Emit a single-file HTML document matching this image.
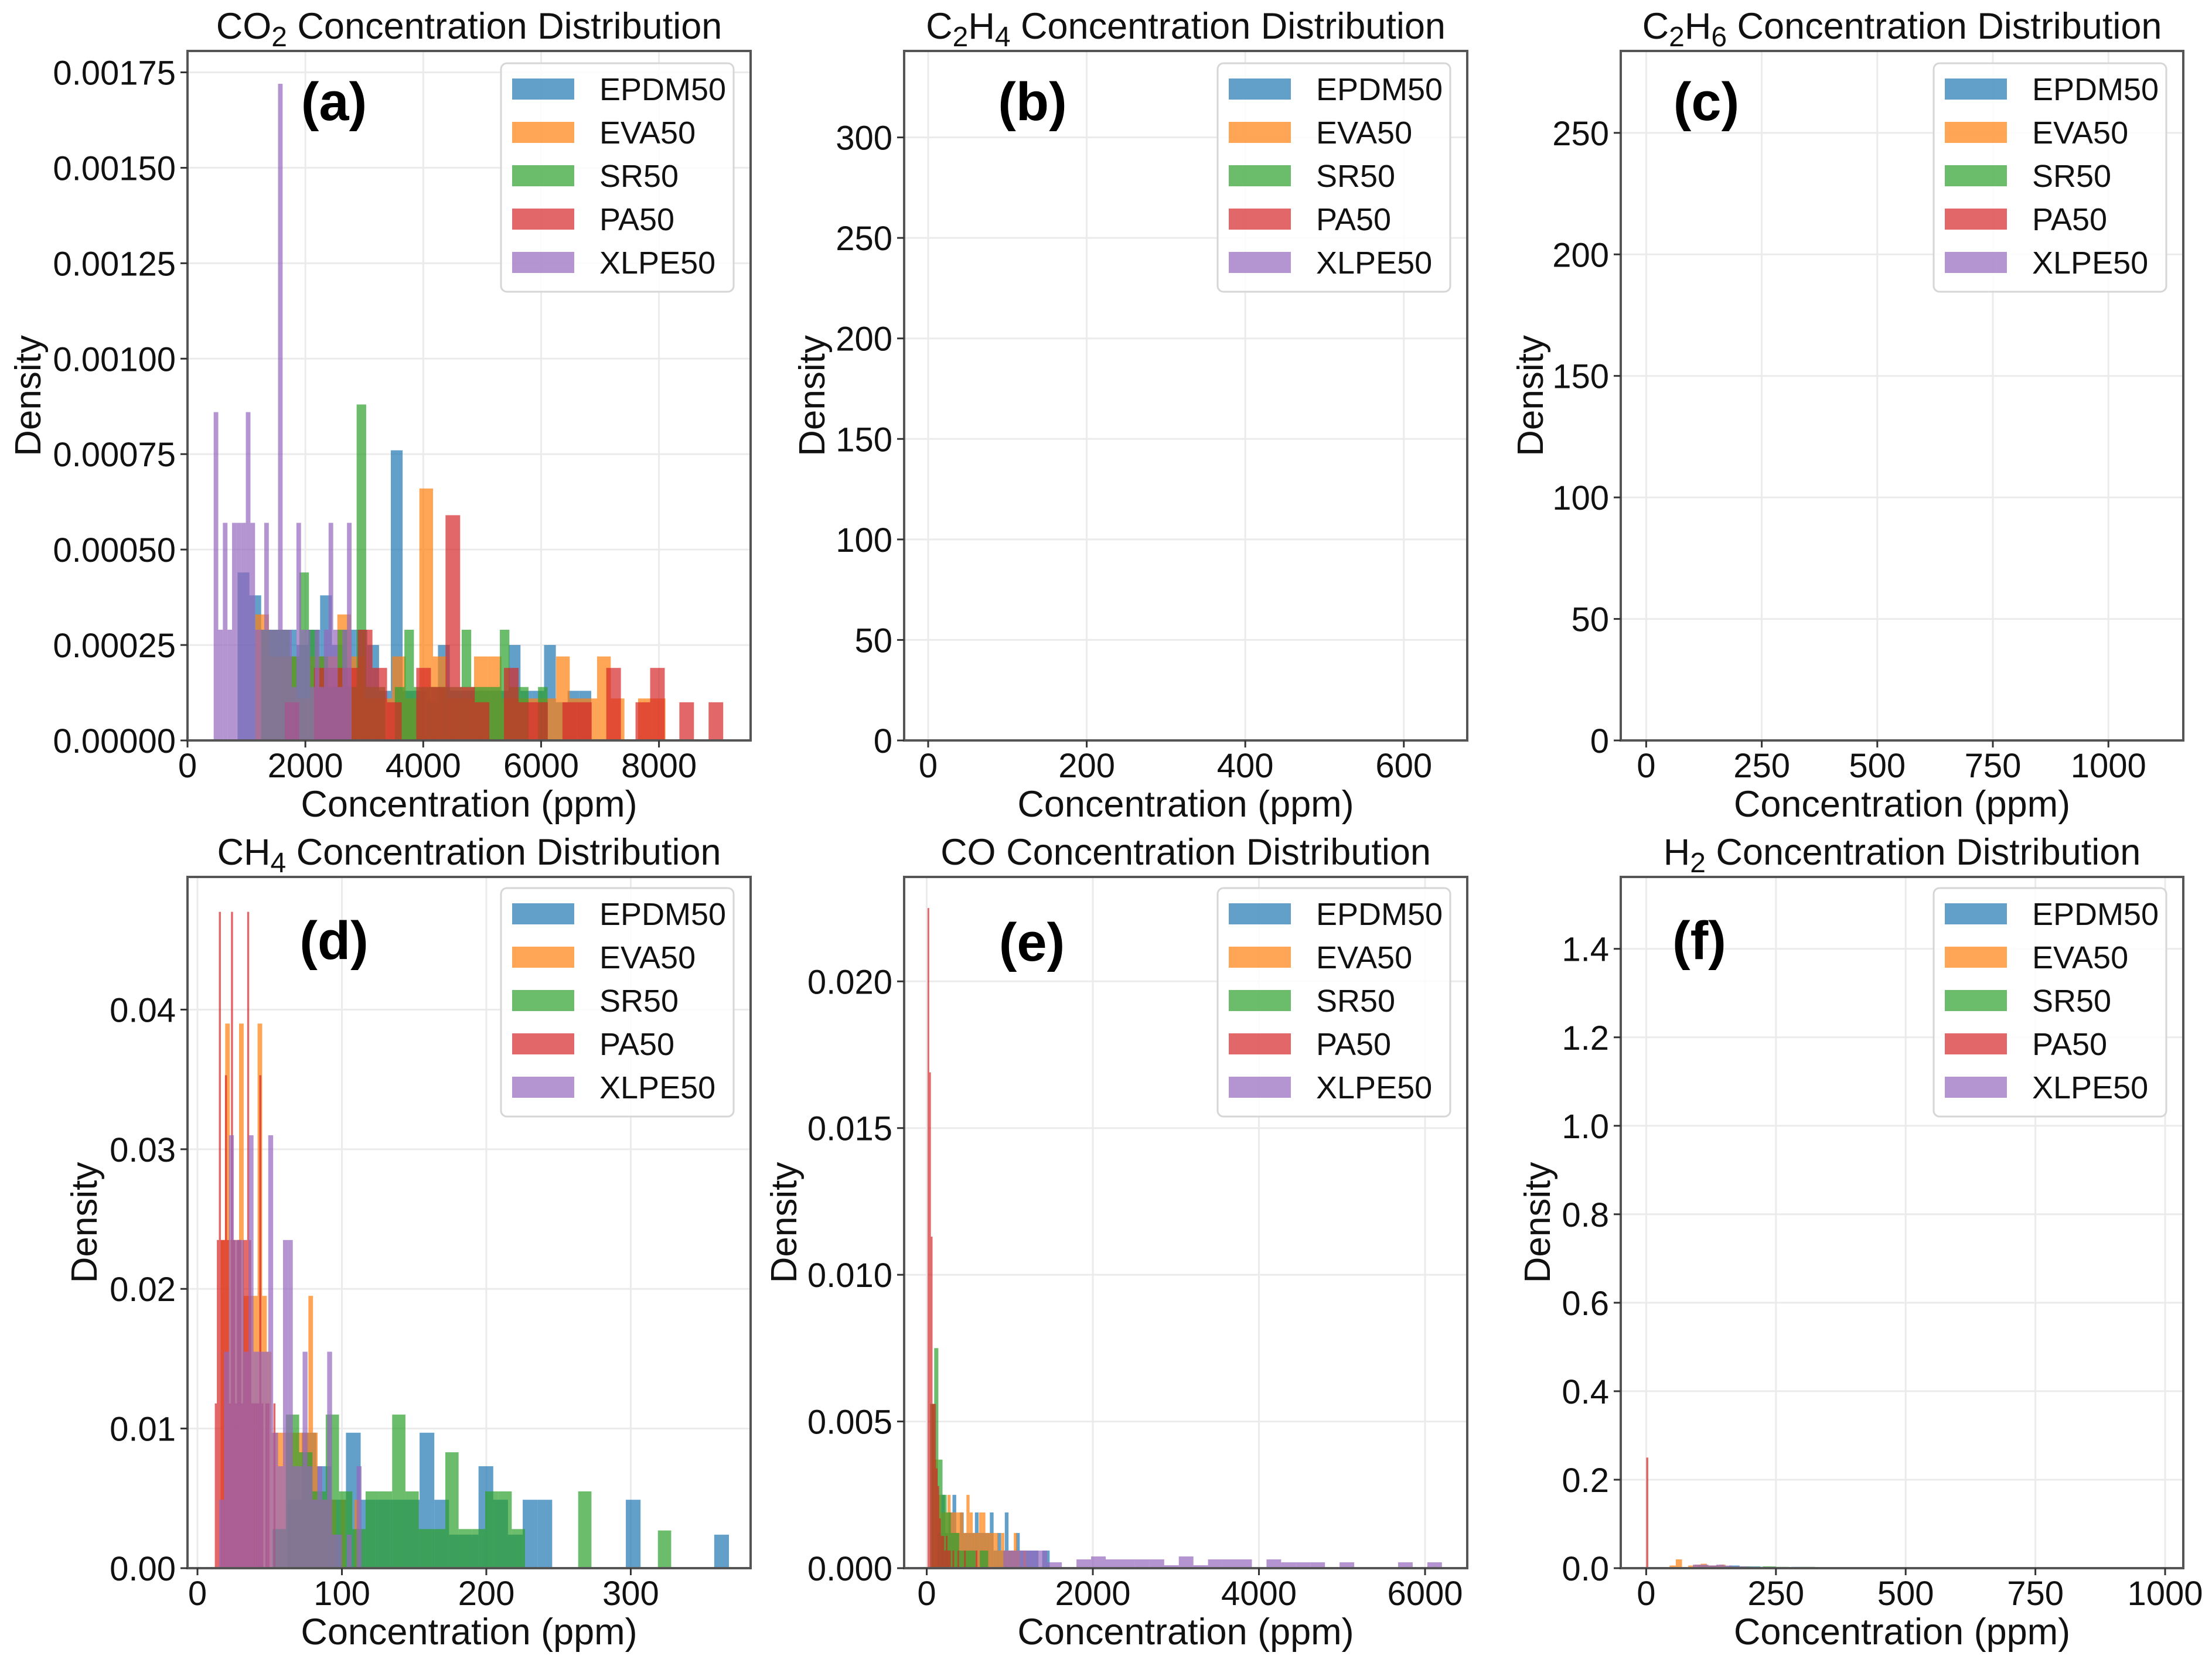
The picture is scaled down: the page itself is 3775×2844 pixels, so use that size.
<!DOCTYPE html>
<html><head><meta charset="utf-8">
<style>
html,body{margin:0;padding:0;background:#fff;}
svg{display:block;font-family:"Liberation Sans",Arial,sans-serif;}
</style></head>
<body>
<svg id="fig" xmlns="http://www.w3.org/2000/svg" width="3775" height="2844" viewBox="0 0 3775 2844"></svg>
<script>
// ---------- Data ----------
const seriesNames = ["EPDM50","EVA50","SR50","PA50","XLPE50"];
const seriesColors = ["#1f77b4","#ff7f0e","#2ca02c","#d62728","#9467bd"];

// CO2 (a)
const co2Starts = [850,1150,1250,1650,444];
const co2Widths = [200,232,162,248,78];
const co2EPDM = [0.00044,0.00038,0.00029,0.00029,0.00029,0.00025,0.00029,0.00038,0.00025,0.00029,0.00029,0.00025,0.00013,0.00076,0.00013,0.00013,0.0001,0.00025,0.00013,0.00013,0.00013,0.00013,0.00013,0.00025,0.00013,0.00013,0.00025,0.0001,0.00013,0.00013];
const co2EVA = [0.00033,0.00022,0.00022,0.00011,0.00022,0.00022,0.00033,0.00022,0.00011,0.00011,0.00022,0.00011,0.00066,0.00022,0.00011,0.00011,0.00022,0.00022,0.00011,0.00011,0.00011,0.00011,0.00022,0.00011,0.00011,0.00022,0.00011,0,0.00011,0.00011];
const co2SR = [0.00029,0.00029,0.00029,0.00022,0.00044,0.00029,0.00022,0.00014,0.00029,0.00014,0.00088,0.00014,0.00014,0,0.00014,0.00029,0.00014,0.00014,0.00014,0.00014,0.00014,0.00029,0.00014,0.00014,0.00014,0.00029,0.00014,0.00014,0,0.00014];
const co2PA = [0.0001,0,0.00019,0.00019,0.00019,0.00029,0.00019,0.0001,0,0.00019,0.00014,0.00059,0.00014,0.0001,0,0.00019,0.0001,0.0001,0,0.0001,0.0001,0,0.00019,0,0.0001,0.00019,0,0.0001,0,0.0001];
const co2XLPE = [0.00086,0.00029,0.00057,0.00029,0.00057,0.00057,0.00057,0.00086,0.00057,0.00029,0.00029,0.00057,0.00029,0.00029,0.00172,0.00029,0.00029,0.00014,0.00057,0.00029,0.00029,0.00014,0.00029,0.00014,0.00029,0.00057,0.00029,0.00014,0.00029,0.00057];

// CH4 (d)
const ch4Starts = [62,16,52,12,15];
const ch4Widths = [10.2,3.2,9.2,1.4,3.4];
const ch4EPDM = [0.0049,0.0097,0.0073,0.0049,0.0097,0.0049,0.0049,0.0049,0.0049,0.0097,0.0049,0.0024,0.0024,0.0073,0.0049,0.0024,0.0049,0.0049,0,0,0,0,0,0.0049,0,0,0,0,0,0.0024];
const ch4EVA = [0.0235,0.039,0.0235,0.0235,0.039,0.0195,0.0195,0.0195,0.039,0.0195,0.0155,0.0097,0.0097,0.0097,0.0097,0.0097,0.0097,0.0097,0.0097,0.0195,0.0097,0.0049,0.0049,0.0049,0.0049,0,0.0049,0,0,0.0049];
const ch4SR = [0.0028,0.011,0.0083,0.0055,0.011,0.0055,0.0028,0.0055,0.0055,0.011,0.0055,0.0028,0.0028,0.0083,0.0028,0.0028,0.0055,0.0055,0.0028,0,0,0,0,0.0055,0,0,0,0,0,0.0027];
const ch4PA = [0.0118,0.0235,0.047,0.0235,0.0235,0.0353,0.0235,0.0118,0.047,0.0235,0.0118,0.0235,0.0235,0.0118,0.0235,0.0235,0.047,0.0235,0.0118,0.0118,0.0118,0.0118,0.0353,0.0118,0,0.0118,0.0118,0,0,0.0118];
const ch4XLPE = [0.0049,0.0155,0.031,0.0235,0.0235,0.0155,0.031,0.0155,0.0155,0.0155,0.031,0.0097,0.0073,0.0235,0.0235,0.0073,0.0073,0.0155,0.0073,0.0049,0.0073,0.0049,0.0155,0.0024,0.0024,0,0.0024,0,0.0073,0];

// CO (e)
const coStarts = [130,60,40,10,923];
const coWidths = [45,38,50,20,176];
const coEPDM = [0.0012,0.0025,0.0012,0.0019,0.0025,0.0012,0.0019,0.0012,0.0012,0.0012,0.0019,0.0012,0.0012,0.0012,0.0019,0.0006,0.0012,0.0006,0.0019,0.0006,0.0006,0.0012,0.0006,0.0006,0.0006,0.0006,0.0006,0,0.0006,0.0006];
const coEVA = [0.0056,0.0037,0.0025,0.0019,0.0019,0.0025,0.0019,0.0019,0.0019,0.0019,0.0012,0.0025,0.0019,0.0012,0.0012,0.0019,0.0019,0.0012,0.0012,0.0012,0.0012,0.0006,0.0012,0.0006,0.0006,0.0006,0.0012,0.0006,0,0.0006];
const coSR = [0.0056,0.0075,0.0037,0.0025,0.0019,0.0012,0.0012,0.0006,0.0006,0.0006,0.0006,0,0.0006,0.0006,0,0,0,0,0,0,0,0,0,0,0,0,0,0,0,0];
const coPA = [0.0225,0.0169,0.0113,0.0056,0.0056,0.0034,0.0028,0.0017,0.0011,0.0011,0.0006,0.0011,0.0006,0.0006,0,0.0006,0,0,0.0006,0,0,0,0.0006,0,0,0,0,0,0,0.0006];
const coXLPE = [0.0006,0.0006,0.0006,0.0002,0,0.0003,0.0004,0.0003,0.0003,0.0003,0.0003,0.0001,0.0004,0.0001,0.0003,0.0003,0.0003,0,0.0003,0.0002,0.0002,0.0002,0,0.0002,0,0,0,0.0002,0,0.0002];

// H2 (f)
const h2Starts = [100,45,150,0,90];
const h2Widths = [20,12,25,4,15];
const h2EPDM = [0.006,0.006,0.004,0.006,0.004,0.004,0.003,0.002,0.002,0.003];
const h2EVA = [0.006,0.02,0,0.006,0.008,0.01,0.006,0.006,0.008,0.004];
const h2SR = [0.004,0.004,0.003,0.004,0.003,0.002,0.003,0.002,0.002,0.002];
const h2PA = [0.25];
const h2XLPE = [0.008,0.008,0.006,0.008,0.006,0.004,0.004,0.003];

// Empty panels (b),(c)
const emptyStarts = [];
const emptyWidths = [];

// Axis ticks
const co2XTicks = [0,2000,4000,6000,8000];
const co2YTicks = [0,0.00025,0.0005,0.00075,0.001,0.00125,0.0015,0.00175];
const c2h4XTicks = [0,200,400,600];
const c2h4YTicks = [0,50,100,150,200,250,300];
const c2h6XTicks = [0,250,500,750,1000];
const c2h6YTicks = [0,50,100,150,200,250];
const ch4XTicks = [0,100,200,300];
const ch4YTicks = [0,0.01,0.02,0.03,0.04];
const coXTicks = [0,2000,4000,6000];
const coYTicks = [0,0.005,0.01,0.015,0.02];
const h2XTicks = [0,250,500,750,1000];
const h2YTicks = [0,0.2,0.4,0.6,0.8,1.0,1.2,1.4];

// ---------- Drawing ----------
const NS = "http://www.w3.org/2000/svg";
const svg = document.getElementById("fig");
function mk(tag, attrs, parent){
  const e = document.createElementNS(NS, tag);
  for (const k in attrs) e.setAttribute(k, attrs[k]);
  (parent||svg).appendChild(e);
  return e;
}

const panels = [
  {id:"co2", letter:"(a)", title:["CO","2"," Concentration Distribution"], x0:320, y0:87, w:961, h:1177,
   xmin:0, xmax:9555, ymax:0.001806, xt:co2XTicks, yt:co2YTicks, yd:5, ylx:48, lx:250, ly:86,
   starts:co2Starts, widths:co2Widths, data:[co2EPDM,co2EVA,co2SR,co2PA,co2XLPE]},
  {id:"c2h4", letter:"(b)", title:["C","2","H","4"," Concentration Distribution"], x0:1543, y0:87, w:961, h:1177,
   xmin:-30.3, xmax:680, ymax:343, xt:c2h4XTicks, yt:c2h4YTicks, yd:0, ylx:1386, lx:219, ly:86,
   starts:emptyStarts, widths:emptyWidths, data:[]},
  {id:"c2h6", letter:"(c)", title:["C","2","H","6"," Concentration Distribution"], x0:2766, y0:87, w:960, h:1177,
   xmin:-55, xmax:1162, ymax:283.7, xt:c2h6XTicks, yt:c2h6YTicks, yd:0, ylx:2612, lx:146, ly:86,
   starts:emptyStarts, widths:emptyWidths, data:[]},
  {id:"ch4", letter:"(d)", title:["CH","4"," Concentration Distribution"], x0:320, y0:1497, w:961, h:1180,
   xmin:-6.9, xmax:383, ymax:0.0495, xt:ch4XTicks, yt:ch4YTicks, yd:2, ylx:144, lx:250, ly:108,
   starts:ch4Starts, widths:ch4Widths, data:[ch4EPDM,ch4EVA,ch4SR,ch4PA,ch4XLPE]},
  {id:"co", letter:"(e)", title:["CO Concentration Distribution"], x0:1543, y0:1497, w:961, h:1180,
   xmin:-272, xmax:6508, ymax:0.02356, xt:coXTicks, yt:coYTicks, yd:3, ylx:1338, lx:218, ly:111,
   starts:coStarts, widths:coWidths, data:[coEPDM,coEVA,coSR,coPA,coXLPE]},
  {id:"h2", letter:"(f)", title:["H","2"," Concentration Distribution"], x0:2766, y0:1497, w:960, h:1180,
   xmin:-49, xmax:1035, ymax:1.5625, xt:h2XTicks, yt:h2YTicks, yd:1, ylx:2624, lx:134, ly:108,
   starts:h2Starts, widths:h2Widths, data:[h2EPDM,h2EVA,h2SR,h2PA,h2XLPE]}
];

panels.forEach(p => {
  const g = mk("g", {});
  
  
  const sx = v => p.x0 + (v - p.xmin) / (p.xmax - p.xmin) * p.w;
  const sy = v => p.y0 + p.h - v / p.ymax * p.h;
  const bottom = p.y0 + p.h;

  const grid = mk("g", {stroke:"#ebebeb", "stroke-width":3}, g);
  
  
  p.xt.forEach(t => mk("line", {x1:sx(t), x2:sx(t), y1:p.y0, y2:bottom}, grid));
  p.yt.forEach(t => mk("line", {x1:p.x0, x2:p.x0+p.w, y1:sy(t), y2:sy(t)}, grid));

  p.data.forEach((vals, si) => {
    const sg = mk("g", {fill:seriesColors[si], "fill-opacity":0.7}, g);
    
    
    vals.forEach((v, i) => {
      if (!v) return;
      const a = p.starts[si] + i * p.widths[si];
      const b = a + p.widths[si];
      const r = mk("rect", {x:sx(a), y:sy(v), width:Math.max(sx(b)-sx(a),1), height:bottom - sy(v)}, sg);
      
      
    });
  });

  const fr = mk("rect", {x:p.x0, y:p.y0, width:p.w, height:p.h, fill:"none", stroke:"#555", "stroke-width":4}, g);
  
  

  const tk = mk("g", {stroke:"#333", "stroke-width":3}, g);
  const tl = mk("g", {"font-size":58, fill:"#111"}, g);
  
  
  p.xt.forEach(t => {
    mk("line", {x1:sx(t), x2:sx(t), y1:bottom, y2:bottom+12}, tk);
    const tx = mk("text", {x:sx(t), y:bottom+63, "text-anchor":"middle"}, tl);
    tx.textContent = String(t);
  });
  p.yt.forEach(t => {
    mk("line", {x1:p.x0-12, x2:p.x0, y1:sy(t), y2:sy(t)}, tk);
    const ty = mk("text", {x:p.x0-20, y:sy(t)+21, "text-anchor":"end"}, tl);
    ty.textContent = t.toFixed(p.yd);
  });

  const tt = mk("text", {x:p.x0 + p.w/2, y:p.y0 - 21, "text-anchor":"middle", "font-size":63, fill:"#111"}, g);
  
  
  p.title.forEach((s, i) => {
    const ts = mk("tspan", {}, tt);
    if (i % 2 === 1) { ts.setAttribute("font-size", 48); ts.setAttribute("dy", 13); }
    else if (i > 0) { ts.setAttribute("dy", -13); }
    ts.textContent = s;
  });

  const xl = mk("text", {x:p.x0 + p.w/2, y:bottom + 130, "text-anchor":"middle", "font-size":63, fill:"#111"}, g);
  
  
  xl.textContent = "Concentration (ppm)";
  const cy = p.y0 + p.h/2;
  const yl = mk("text", {x:p.ylx, y:cy, "text-anchor":"middle", "font-size":62, fill:"#111", transform:`rotate(-90 ${p.ylx} ${cy})`, dy:21}, g);
  
  
  yl.textContent = "Density";

  const lt = mk("text", {x:p.x0 + p.lx, y:p.y0 + p.ly + 32, "text-anchor":"middle", "font-size":92, "font-weight":"bold", fill:"#000"}, g);
  
  
  lt.textContent = p.letter;

  const lgx = p.x0 + p.w - 29 - 397, lgy = p.y0 + (p.y0 < 500 ? 21 : 19);
  const lg = mk("g", {}, g);
  
  
  mk("rect", {x:lgx, y:lgy, width:397, height:390, rx:10, fill:"#fff", "fill-opacity":0.85, stroke:"#d6d6d6", "stroke-width":3}, lg);
  seriesNames.forEach((n, i) => {
    const e = mk("g", {}, lg);
    
    
    mk("rect", {x:lgx+19, y:lgy+44+i*74-18, width:106, height:36, fill:seriesColors[i], "fill-opacity":0.7}, e);
    const t = mk("text", {x:lgx+168, y:lgy+44+i*74+19, "font-size":54, fill:"#111"}, e);
    t.textContent = n;
  });
});
</script>
</body></html>
